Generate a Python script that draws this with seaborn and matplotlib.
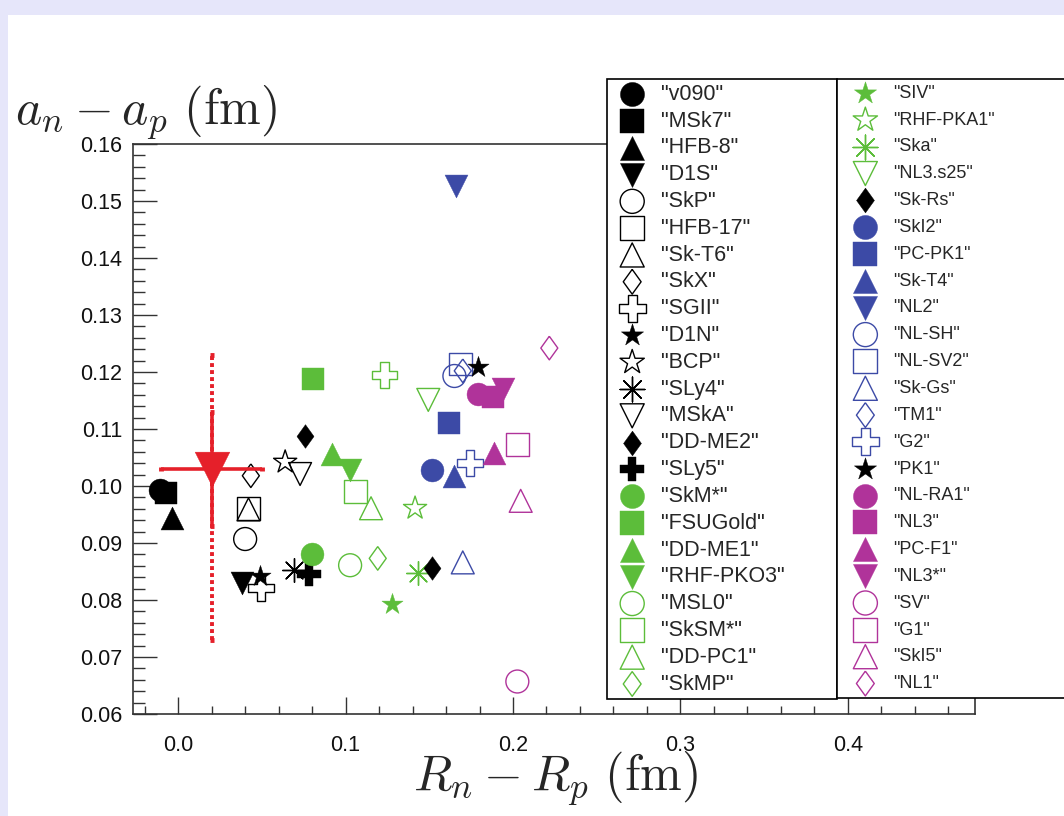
import numpy as np
import matplotlib
matplotlib.use("Agg")
import matplotlib.pyplot as plt
import seaborn as sns
from matplotlib.patches import Rectangle
from matplotlib.ticker import MultipleLocator, FormatStrFormatter

# ---------------- data ----------------
models = ["v090", "MSk7", "HFB-8", "D1S", "SkP", "HFB-17", "Sk-T6", "SkX", "SGII", "D1N",
          "BCP", "SLy4", "MSkA", "DD-ME2", "SLy5", "SkM*", "FSUGold", "DD-ME1", "RHF-PKO3",
          "MSL0", "SkSM*", "DD-PC1", "SkMP",
          "SIV", "RHF-PKA1", "Ska", "NL3.s25", "Sk-Rs", "SkI2", "PC-PK1", "Sk-T4", "NL2",
          "NL-SH", "NL-SV2", "Sk-Gs", "TM1", "G2", "PK1", "NL-RA1", "NL3", "PC-F1", "NL3*",
          "SV", "G1", "SkI5", "NL1"]
rn_rp = [-0.0107, -0.0072, -0.0038, 0.0380, 0.0400, 0.0420, 0.0420, 0.0434, 0.0494, 0.0486,
         0.0639, 0.0689, 0.0728, 0.0758, 0.0784, 0.0798, 0.0804, 0.0918, 0.1027,
         0.1027, 0.1061, 0.1152, 0.1192,
         0.1276, 0.1415, 0.1435, 0.1494, 0.1515, 0.1518, 0.1620, 0.1650, 0.1660,
         0.1650, 0.1684, 0.1700, 0.1700, 0.1743, 0.1789, 0.1793, 0.1883, 0.1888, 0.1940,
         0.2026, 0.2028, 0.2046, 0.2217]
an_ap = [0.0993, 0.0988, 0.0943, 0.0830, 0.0907, 0.0961, 0.0959, 0.1018, 0.0821, 0.0842,
         0.1042, 0.0853, 0.1021, 0.1087, 0.0846, 0.0881, 0.1187, 0.1056, 0.1028,
         0.0861, 0.0991, 0.0961, 0.0873,
         0.0793, 0.0961, 0.0847, 0.1151, 0.0856, 0.1028, 0.1111, 0.1018, 0.1526,
         0.1193, 0.1214, 0.0866, 0.1202, 0.1040, 0.1209, 0.1161, 0.1157, 0.1058, 0.1170,
         0.0657, 0.1073, 0.0974, 0.1242]
marker_keys = ["circle_f", "square_f", "tri_up_f", "tri_dn_f", "circle_o", "square_o", "tri_up_o",
               "diamond_o", "cross_o", "star_f", "star_o", "aster", "tri_dn_o", "diamond_f", "cross_f",
               "circle_f", "square_f", "tri_up_f", "tri_dn_f", "circle_o", "square_o", "tri_up_o",
               "diamond_o",
               "star_f", "star_o", "aster", "tri_dn_o", "diamond_f",
               "circle_f", "square_f", "tri_up_f", "tri_dn_f", "circle_o", "square_o", "tri_up_o",
               "diamond_o", "cross_o", "star_f",
               "circle_f", "square_f", "tri_up_f", "tri_dn_f", "circle_o", "square_o", "tri_up_o",
               "diamond_o"]
groups = ["black"] * 15 + ["green"] * 8 + ["green"] * 4 + ["black"] + ["blue"] * 9 + ["black"] + ["magenta"] * 8

# point drawn in the chart without a legend entry
unlisted_rn_rp = [0.1232]
unlisted_an_ap = [0.1195]

# experimental value
exp_rn_rp = [0.020]
exp_an_ap = [0.103]
exp_rn_rp_err = [0.030]
exp_an_ap_err = [0.010]
exp_an_ap_err_total_low = [0.030]
exp_an_ap_err_total_high = [0.020]

# ---------------- styles ----------------
COLORS = {"black": "#000000", "green": "#5cbd3a", "blue": "#3c4aa6",
          "magenta": "#b0339a", "red": "#e5202a"}
DIAMOND = [(0, 1), (0.72, 0), (0, -1), (-0.72, 0), (0, 1)]
ASTER = (8, 2, 0)
STYLE = {
    "circle_f": ("o", True, 16.5), "square_f": ("s", True, 16.5),
    "tri_up_f": ("^", True, 16.5), "tri_dn_f": ("v", True, 16.5),
    "circle_o": ("o", False, 16.5), "square_o": ("s", False, 16.5),
    "tri_up_o": ("^", False, 16.5), "tri_dn_o": ("v", False, 16.5),
    "diamond_o": (DIAMOND, False, 17), "diamond_f": (DIAMOND, True, 17),
    "cross_o": ("P", False, 18.5), "cross_f": ("P", True, 17),
    "star_f": ("*", True, 16), "star_o": ("*", False, 17.5),
    "aster": (ASTER, None, 17),
}

sns.set_theme(style="white")
plt.rcParams["font.family"] = ["Liberation Sans", "DejaVu Sans"]
plt.rcParams["mathtext.fontset"] = "cm"

W, H = 1064, 816
fig = plt.figure(figsize=(W / 100, H / 100), dpi=100)
fig.patch.set_facecolor("#e6e6fa")
fig.add_artist(Rectangle((8 / W, 0), 1, 1 - 15 / H, transform=fig.transFigure,
                         facecolor="white", edgecolor="none", zorder=-10))

ax = fig.add_axes([133 / W, 1 - 714 / H, (975 - 133) / W, (714 - 144) / H])
ax.set_facecolor("white")


def draw_point(x, y, key, color, label):
    m, filled, ms = STYLE[key]
    if filled is None:
        sns.scatterplot(x=[x], y=[y], marker=m, s=ms ** 2, color=color, linewidth=1.0,
                        ax=ax, legend=False, label=label, zorder=3)
    elif filled:
        sns.scatterplot(x=[x], y=[y], marker=m, s=ms ** 2, color=color, edgecolor=color,
                        linewidth=0.3, ax=ax, legend=False, label=label, zorder=3)
    else:
        sns.scatterplot(x=[x], y=[y], marker=m, s=ms ** 2, facecolor="none", edgecolor=color,
                        linewidth=1.0, ax=ax, legend=False, label=label, zorder=3)


for name, x, y, key, g in zip(models, rn_rp, an_ap, marker_keys, groups):
    draw_point(x, y, key, COLORS[g], '"%s"' % name)
for x, y in zip(unlisted_rn_rp, unlisted_an_ap):
    draw_point(x, y, "cross_o", COLORS["green"], "_nolegend_")

# experimental point with error bars
red = COLORS["red"]
eb = ax.errorbar(exp_rn_rp, exp_an_ap, yerr=[exp_an_ap_err_total_low, exp_an_ap_err_total_high],
                 fmt="none", ecolor=red, elinewidth=2.8, capsize=1.5, capthick=3.5, zorder=4)
eb[2][0].set_linestyle((0, (1.0, 0.8)))
ax.errorbar(exp_rn_rp, exp_an_ap, xerr=exp_rn_rp_err, yerr=exp_an_ap_err, fmt="none",
            ecolor=red, elinewidth=2.6, capsize=1.5, capthick=3.5, zorder=4)
sns.scatterplot(x=exp_rn_rp, y=exp_an_ap, marker="v", s=25 ** 2, color=red, edgecolor=red,
                linewidth=0.3, ax=ax, legend=False, zorder=5)

# axes
ax.set_xlim(-0.027, 0.476)
ax.set_ylim(0.06, 0.16)
ax.set_xlabel("")
ax.set_ylabel("")
ax.xaxis.set_major_locator(MultipleLocator(0.1))
ax.xaxis.set_minor_locator(MultipleLocator(0.02))
ax.yaxis.set_major_locator(MultipleLocator(0.01))
ax.yaxis.set_minor_locator(MultipleLocator(0.002))
ax.xaxis.set_major_formatter(FormatStrFormatter("%.1f"))
ax.yaxis.set_major_formatter(FormatStrFormatter("%.2f"))
for s in ax.spines.values():
    s.set_color("#333333")
    s.set_linewidth(1.2)
ax.tick_params(which="both", direction="in", bottom=True, left=True, top=False, right=False,
               color="#333333", width=1.0, labelsize=15.5, labelcolor="#111111")
ax.tick_params(axis="y", which="major", length=17, pad=8)
ax.tick_params(axis="y", which="minor", length=8.5)
ax.tick_params(axis="x", which="major", length=12, pad=15)
ax.tick_params(axis="x", which="minor", length=6)

fig.text(15 / W, 1 - 124 / H, r"$a_n - a_p\ (\mathrm{fm})$", fontsize=36,
         ha="left", va="baseline")
fig.text(555 / W, 1 - 790 / H, r"$R_n - R_p\ (\mathrm{fm})$", fontsize=36,
         ha="center", va="baseline")

# legends (two boxed columns)
handles, labels = ax.get_legend_handles_labels()
n1 = 23
top = 79
bot = 698
leg1 = fig.legend(handles[:n1], labels[:n1], loc="upper left", mode="expand",
                  bbox_to_anchor=(607 / W, 1 - bot / H, (837 - 607) / W, (bot - top) / H),
                  bbox_transform=fig.transFigure, borderaxespad=0, fontsize=15.5,
                  borderpad=0.22, labelspacing=0.27, handlelength=1.9, handletextpad=0.38,
                  markerscale=1.05, fancybox=False, framealpha=1, edgecolor="black")
leg2 = fig.legend(handles[n1:], labels[n1:], loc="upper left", mode="expand",
                  bbox_to_anchor=(837 / W, 1 - bot / H, (1250 - 837) / W, (bot - top) / H),
                  bbox_transform=fig.transFigure, borderaxespad=0, fontsize=13,
                  borderpad=0.32, labelspacing=0.545, handlelength=2.5, handletextpad=0.3,
                  markerscale=1.05, fancybox=False, framealpha=1, edgecolor="black")
for lg in (leg1, leg2):
    lg.get_frame().set_linewidth(1.2)
    lg.set_zorder(10)

fig.savefig("out.png", dpi=100)
